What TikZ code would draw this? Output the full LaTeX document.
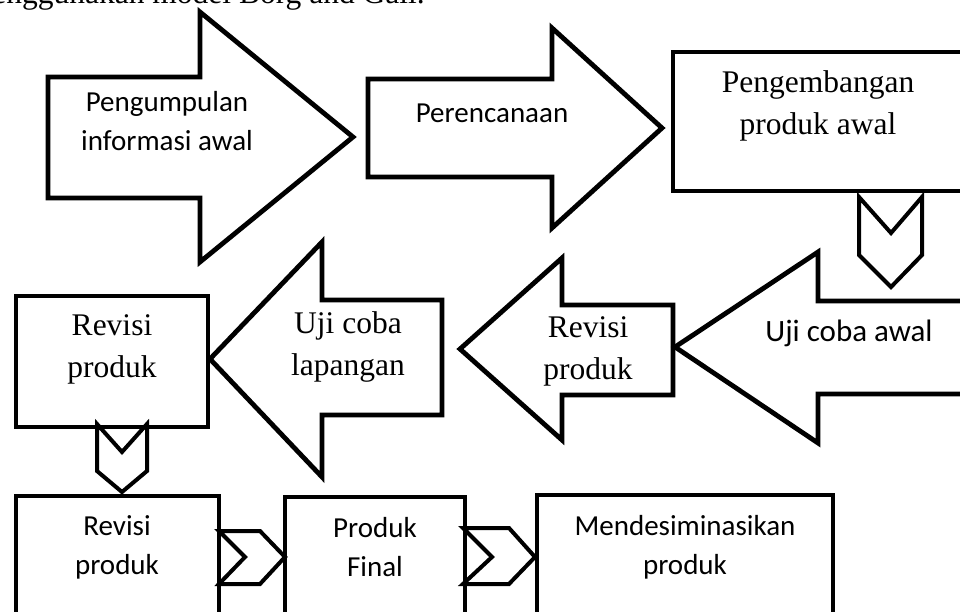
\documentclass[tikz,border=0pt]{standalone}
\usepackage{fontspec}
\setmainfont{Liberation Serif}
\newfontfamily\calibri{Carlito}
\usetikzlibrary{positioning}
\tikzset{blok/.style={draw,line width=4.8pt,line join=miter},
         sambung/.style={draw,line width=4pt,line join=miter},
         serif text/.style={align=center,inner sep=0pt,font=\fontsize{31.5}{42}\selectfont},
         sans text/.style={align=center,inner sep=0pt,font=\calibri\fontsize{29}{39}\selectfont} }

\begin{document}
\begin{tikzpicture}[x=1pt,y=-1pt]
  \useasboundingbox (0,0) rectangle (960,612);
  \clip (0,0) rectangle (960,612);

  % line of text cut off at the top
  \node[anchor=base east,inner sep=0pt,font=\fontsize{31.5}{38}\selectfont] (judul) at (425,4) {enggunakan model Borg and Gall.};

  % top row
  \draw[blok] (48,77) -- (200,77) -- (200,12) -- (353,137) -- (200,262) -- (200,198) -- (48,198) -- cycle;
  \draw[blok] (368,79) -- (552,79) -- (552,28) -- (662,128) -- (552,228) -- (552,177) -- (368,177) -- cycle;
  \draw[blok] (673,52) rectangle (963,191);
  \node[sans text] (kumpul) at (167,121) {Pengumpulan\\informasi awal};
  \node[sans text] (rencana) at (492,113) {Perencanaan};
  \node[serif text] (kembang) at (818,106) {Pengembangan\\produk awal};

  \draw[sambung] (859,197) -- (891,233) -- (922,197) -- (922,255) -- (891,287) -- (859,255) -- cycle;

  % middle row
  \draw[blok] (965,301) -- (818,301) -- (818,252) -- (675,347) -- (818,443) -- (818,394) -- (965,394) -- cycle;
  \draw[blok] (673,305) -- (562,305) -- (562,258) -- (460,349) -- (562,440) -- (562,395) -- (673,395) -- cycle;
  \draw[blok] (442,300) -- (322,300) -- (322,242) -- (210,359) -- (322,477) -- (322,415) -- (442,415) -- cycle;
  \draw[blok] (16,296) rectangle (208,427);
  \node[sans text,font=\calibri\fontsize{31}{39}\selectfont] (ujiawal) at (849,333) {Uji coba awal};
  \node[serif text] (revisi1) at (588,351) {Revisi\\produk};
  \node[serif text] (ujilap) at (348,347) {Uji coba\\lapangan};
  \node[serif text] (revisi2) at (112,349) {Revisi\\produk};

  \draw[sambung] (97,424) -- (122,452) -- (147,424) -- (147,471) -- (122,492) -- (97,471) -- cycle;

  % bottom row
  \draw[blok] (16,496) rectangle (219,625);
  \draw[blok] (285,497) rectangle (465,625);
  \draw[blok] (537,495) rectangle (833,625);
  \draw[sambung] (219,531) -- (260,531) -- (285,557) -- (260,584) -- (219,584) -- (245,557) -- cycle;
  \draw[sambung] (463,528) -- (509,528) -- (535,557) -- (509,584) -- (463,584) -- (492,557) -- cycle;
  \node[sans text] (revisi3) at (117,547) {Revisi\\produk};
  \node[sans text] (final) at (375,547) {Produk\\Final};
  \node[sans text] (sebar) at (685,547) {Mendesiminasikan\\produk};
\end{tikzpicture}
\end{document}
